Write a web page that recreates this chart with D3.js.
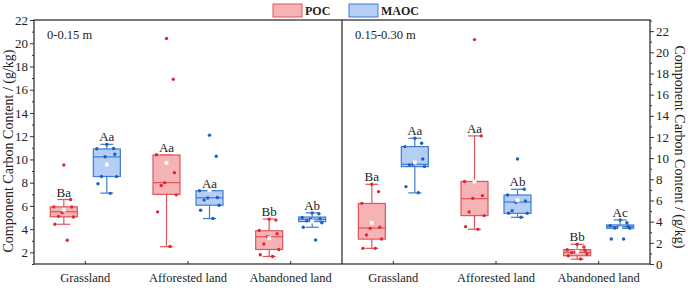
<!DOCTYPE html>
<html lang="en">
<head>
<meta charset="utf-8">
<title>POC / MAOC box plots</title>
<script src="https://d3js.org/d3.v7.min.js"></script>
<style>
  body { margin: 0; background: #fff; }
  svg text { font-family: "Liberation Serif", "Times New Roman", serif; fill: #222; }
</style>
</head>
<body>
<div id="chart"></div>
<script>
// ---- data ----
var categories = ["Grassland", "Afforested land", "Abandoned land"];
var seriesNames = ["POC", "MAOC"];
var depths = ["0-0.15 m", "0.15-0.30 m"];

// raw points (g/kg), one array per land use
var pocTopPts = [
  [9.52, 6.55, 5.92, 5.9, 5.42, 5.1, 5.05, 4.42, 3.04],
  [20.41, 16.9, 10.4, 8.86, 8.0, 7.76, 6.95, 5.49, 2.5],
  [4.86, 4.78, 3.88, 3.6, 3.35, 2.72, 2.25, 1.8, 1.65]
];
var maocTopPts = [
  [11.28, 10.94, 10.92, 10.44, 10.23, 8.53, 8.52, 7.91, 7.08],
  [12.09, 10.27, 7.31, 6.72, 6.68, 6.5, 6.06, 5.63, 4.91],
  [5.4, 5.32, 5.0, 4.9, 4.85, 4.72, 4.55, 4.16, 3.07]
];
var pocSubPts = [
  [7.53, 6.84, 5.73, 3.47, 3.37, 2.74, 2.36, 1.48, 1.48],
  [21.2, 12.1, 7.8, 6.46, 6.2, 4.91, 4.57, 3.53, 3.28],
  [1.86, 1.6, 1.35, 1.3, 1.1, 1.07, 0.95, 0.78, 0.47]
];
var maocSubPts = [
  [11.88, 11.4, 11.09, 9.92, 9.42, 9.36, 9.2, 7.31, 6.73],
  [9.92, 7.06, 6.52, 5.95, 5.83, 5.04, 4.79, 4.79, 4.41],
  [4.16, 3.9, 3.62, 3.55, 3.5, 3.4, 3.37, 2.36, 2.36]
];

// box stats: [whisker low, q1, median, q3, whisker high, mean]
var pocTopBox = [
  [4.42, 5.06, 5.5, 5.92, 6.55, 5.66],
  [2.49, 6.99, 8.0, 10.38, 10.38, 9.7],
  [1.65, 2.25, 3.35, 3.86, 4.87, 3.23]
];
var maocTopBox = [
  [7.1, 8.53, 10.22, 10.9, 11.3, 9.56],
  [4.91, 6.06, 6.7, 7.31, 7.31, 7.35],
  [4.16, 4.65, 4.85, 5.04, 5.4, 4.66]
];
var pocSubBox = [
  [1.48, 2.35, 3.4, 5.72, 7.53, 3.89],
  [3.28, 4.57, 6.17, 7.8, 12.1, 7.78],
  [0.46, 0.78, 1.1, 1.36, 1.86, 1.16]
];
var maocSubBox = [
  [6.72, 9.2, 9.42, 11.09, 11.88, 9.6],
  [4.41, 4.79, 5.85, 6.52, 7.06, 6.03],
  [3.37, 3.37, 3.53, 3.69, 4.16, 3.36]
];

// significance letters
var pocTopLetters = ["Ba", "Aa", "Bb"];
var maocTopLetters = ["Aa", "Aa", "Ab"];
var pocSubLetters = ["Ba", "Aa", "Bb"];
var maocSubLetters = ["Aa", "Ab", "Ac"];

var leftTicks = [2, 4, 6, 8, 10, 12, 14, 16, 18, 20, 22];
var rightTicks = [0, 2, 4, 6, 8, 10, 12, 14, 16, 18, 20, 22];

// ---- layout ----
var W = 688, H = 291;
var plotTop = 20, plotBottom = 264, x0 = 34, xm = 342, x1 = 650;

var colors = {
  POC:  { fill: "#f6b3b6", stroke: "#e0545a", dot: "#dc2a31" },
  MAOC: { fill: "#b5cef5", stroke: "#3d7dcf", dot: "#1b5fc4" }
};

var svg = d3.select("#chart").append("svg")
  .attr("width", W).attr("height", H);

var yLeft = d3.scaleLinear().domain([1, 22]).range([plotBottom, plotTop]);
var yRight = d3.scaleLinear().domain([0, 23.05]).range([plotBottom, plotTop]);

var xLeft = d3.scalePoint().domain(categories).range([x0, xm]).padding(0.5);
var xRight = d3.scalePoint().domain(categories).range([xm, x1]).padding(0.5);

var panels = [
  { x: xLeft, y: yLeft, depth: depths[0], left: x0,
    groups: [
      { name: "POC", pts: pocTopPts, box: pocTopBox, letters: pocTopLetters },
      { name: "MAOC", pts: maocTopPts, box: maocTopBox, letters: maocTopLetters }
    ] },
  { x: xRight, y: yRight, depth: depths[1], left: xm,
    groups: [
      { name: "POC", pts: pocSubPts, box: pocSubBox, letters: pocSubLetters },
      { name: "MAOC", pts: maocSubPts, box: maocSubBox, letters: maocSubLetters }
    ] }
];

var offset = 21.5, boxW = 27, capW = 13;

panels.forEach(function(p) {
  var g = svg.append("g");

  p.groups.forEach(function(s, si) {
    var c = colors[s.name];
    var dx = si === 0 ? -offset : offset;

    categories.forEach(function(cat, ci) {
      var cx = p.x(cat) + dx;
      var b = s.box[ci];
      var gg = g.append("g");

      // whiskers
      gg.append("line")
        .attr("x1", cx).attr("x2", cx)
        .attr("y1", p.y(b[0])).attr("y2", p.y(b[1]))
        .attr("stroke", c.stroke).attr("stroke-width", 1.2);
      gg.append("line")
        .attr("x1", cx).attr("x2", cx)
        .attr("y1", p.y(b[3])).attr("y2", p.y(b[4]))
        .attr("stroke", c.stroke).attr("stroke-width", 1.2);
      [b[0], b[4]].forEach(function(v) {
        gg.append("line")
          .attr("x1", cx - capW / 2).attr("x2", cx + capW / 2)
          .attr("y1", p.y(v)).attr("y2", p.y(v))
          .attr("stroke", c.stroke).attr("stroke-width", 1.2);
      });

      // box
      gg.append("rect")
        .attr("x", cx - boxW / 2)
        .attr("y", p.y(b[3]))
        .attr("width", boxW)
        .attr("height", Math.max(1, p.y(b[1]) - p.y(b[3])))
        .attr("fill", c.fill)
        .attr("stroke", c.stroke).attr("stroke-width", 1.2);
      // median
      gg.append("line")
        .attr("x1", cx - boxW / 2).attr("x2", cx + boxW / 2)
        .attr("y1", p.y(b[2])).attr("y2", p.y(b[2]))
        .attr("stroke", c.stroke).attr("stroke-width", 1.2);

      // points, spread a little across the box
      gg.selectAll("circle").data(s.pts[ci]).enter().append("circle")
        .attr("cx", function(d, i) { return cx + Math.sin(i * 2.4) * 10; })
        .attr("cy", function(d) { return p.y(d); })
        .attr("r", 1.7)
        .attr("fill", c.dot);

      // mean
      gg.append("rect")
        .attr("x", cx - 1.8).attr("y", p.y(b[5]) - 1.8)
        .attr("width", 3.6).attr("height", 3.6)
        .attr("fill", "#fff").attr("stroke", "#f0e0e0").attr("stroke-width", 0.4);

      // letters
      gg.append("text")
        .attr("x", cx).attr("y", p.y(b[4]) - 3)
        .attr("text-anchor", "middle")
        .style("font-size", "13px")
        .text(s.letters[ci]);
    });
  });

  // depth tag
  svg.append("text")
    .attr("x", p.left + 13).attr("y", plotTop + 19)
    .style("font-size", "12.5px")
    .text(p.depth);

  // category labels and small inner ticks
  categories.forEach(function(cat) {
    svg.append("text")
      .attr("x", p.x(cat)).attr("y", plotBottom + 18)
      .attr("text-anchor", "middle")
      .style("font-size", "12.5px")
      .text(cat);
    svg.append("line")
      .attr("x1", p.x(cat)).attr("x2", p.x(cat))
      .attr("y1", plotBottom).attr("y2", plotBottom - 3)
      .attr("stroke", "#333").attr("stroke-width", 1);
  });
});

// y axes
var axL = svg.append("g").attr("transform", "translate(" + x0 + ",0)")
  .call(d3.axisLeft(yLeft).tickValues(leftTicks).tickSize(4).tickPadding(2).tickFormat(d3.format("d")));
var axLminor = svg.append("g").attr("transform", "translate(" + x0 + ",0)")
  .call(d3.axisLeft(yLeft).tickValues(leftTicks.map(function(d) { return d - 1; })).tickSize(2).tickFormat(""));
var axR = svg.append("g").attr("transform", "translate(" + x1 + ",0)")
  .call(d3.axisRight(yRight).tickValues(rightTicks).tickSize(4).tickPadding(2).tickFormat(d3.format("d")));
var axRminor = svg.append("g").attr("transform", "translate(" + x1 + ",0)")
  .call(d3.axisRight(yRight).tickValues(rightTicks.map(function(d) { return d + 1; })).tickSize(2).tickFormat(""));

[axL, axLminor, axR, axRminor].forEach(function(a) {
  a.select(".domain").remove();
  a.selectAll("line").attr("stroke", "#333");
  a.selectAll("text").style("font-size", "13px")
    .style("font-family", "'Liberation Serif', serif").attr("fill", "#222");
});

// frame
var frame = svg.append("g").attr("fill", "none").attr("stroke", "#333").attr("stroke-width", 1.3);
frame.append("rect").attr("x", x0).attr("y", plotTop).attr("width", x1 - x0).attr("height", plotBottom - plotTop);
frame.append("line").attr("x1", xm).attr("x2", xm).attr("y1", plotTop).attr("y2", plotBottom);

// axis titles
var title = "Component Carbon Content / (g/kg)";
svg.append("text")
  .attr("transform", "translate(10,151) rotate(-90)")
  .attr("text-anchor", "middle").attr("dominant-baseline", "middle")
  .style("font-size", "14px").text(title);
svg.append("text")
  .attr("transform", "translate(678,147) rotate(90)")
  .attr("text-anchor", "middle").attr("dominant-baseline", "middle")
  .style("font-size", "14px").text(title);

// legend
var legend = svg.append("g");
var legX = [273, 349];
seriesNames.forEach(function(name, i) {
  legend.append("rect")
    .attr("x", legX[i]).attr("y", 4).attr("width", 29).attr("height", 13)
    .attr("fill", colors[name].fill).attr("stroke", colors[name].stroke).attr("stroke-width", 1);
  legend.append("text")
    .attr("x", legX[i] + 32).attr("y", 15)
    .style("font-size", "12px").style("font-weight", "bold")
    .text(name);
});
</script>
</body>
</html>
